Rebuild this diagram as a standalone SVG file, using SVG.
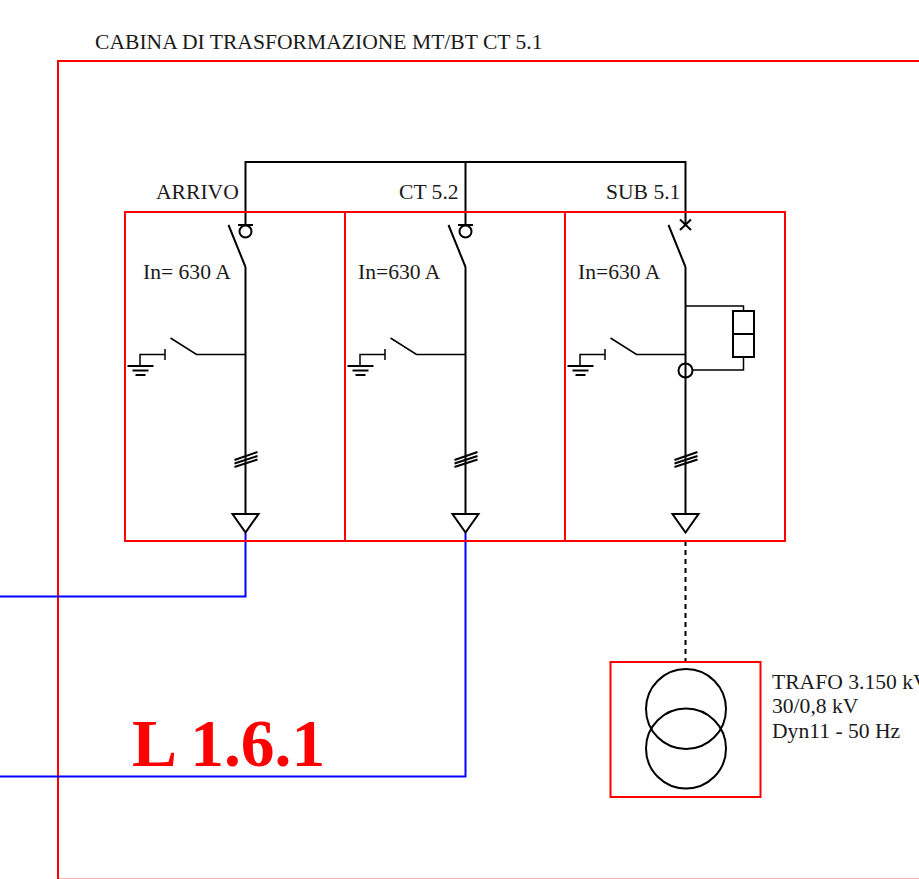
<svg xmlns="http://www.w3.org/2000/svg" xmlns:xlink="http://www.w3.org/1999/xlink" width="919" height="879" viewBox="0 0 919 879">
<style>
text{font-family:"Liberation Serif","Times New Roman",serif;font-size:21.6px;fill:#1a1a1a}
.r{fill:none;stroke:#f00;stroke-width:2}
.k{fill:none;stroke:#000;stroke-width:2}
.t{fill:none;stroke:#000;stroke-width:1.5}
.b{fill:none;stroke:#00f;stroke-width:2}
</style>
<defs>
<g id="bay">
<path class="k" d="M0 267V514M0 267L-17 225"/>
<path class="t" d="M0 354.500H-49L-75 338"/>
<path class="t" d="M-80.500 349V360M-80.500 354.500H-105.500V366"/>
<path class="k" d="M-118 366H-92"/>
<path class="k" d="M-113 370.500H-97" stroke-width="1.500"/>
<path class="k" d="M-110 375H-100" stroke-width="1.500"/>
<path class="k" d="M-11 460L12 452M-11 463.500L12 456M-11 467L12 459.500"/>
<path class="k" d="M-13 514H13L0 532.500Z"/>
</g>
</defs>
<g id="frame"><path class="r" d="M58 879V61H919"/><path d="M58 878.500H919" fill="none" stroke="#f00" stroke-width="1" stroke-opacity="0.3"/><text x="95" y="49">CABINA DI TRASFORMAZIONE MT/BT CT 5.1</text></g>
<g id="connectors">
<path class="b" d="M245.500 533V596.500H0"/>
<path class="b" d="M465.500 533V776.500H0"/>
<path class="k" d="M245.500 225V162H685.500V224M465.500 162V225"/>
<path class="k" stroke-dasharray="5 4" d="M685.500 541V661"/>
</g>
<g id="panel-arrivo">
<rect class="r" x="125" y="212" width="220" height="329"/>
<text x="156" y="199">ARRIVO</text><text x="143" y="279">In= 630 A</text>
<use xlink:href="#bay" href="#bay" x="245.500"/>
<path class="k" d="M238 225H253"/><circle class="k" cx="245.500" cy="231.500" r="6"/>
</g>
<g id="panel-ct52">
<rect class="r" x="345" y="212" width="220" height="329"/>
<text x="399" y="199">CT 5.2</text><text x="358" y="279">In=630 A</text>
<use xlink:href="#bay" href="#bay" x="465.500"/>
<path class="k" d="M458 225H473"/><circle class="k" cx="465.500" cy="231.500" r="6"/>
</g>
<g id="panel-sub51">
<rect class="r" x="565" y="212" width="220" height="329"/>
<text x="606" y="199">SUB 5.1</text><text x="578" y="279">In=630 A</text>
<use xlink:href="#bay" href="#bay" x="685.500"/>
<path class="k" d="M680 219.500L691 230M691 219.500L680 230"/>
<path class="t" d="M685.500 306H743.500V311M743.500 357V370H692"/>
<rect class="k" x="733" y="311" width="21" height="46"/><path class="k" d="M733 334H754"/>
<circle class="k" cx="685.500" cy="370.500" r="7"/>
</g>
<g id="trafo">
<rect class="r" x="610.500" y="662" width="150" height="135"/>
<circle class="k" cx="686" cy="709" r="40"/><circle class="k" cx="686" cy="748.500" r="40"/>
<text x="772" y="689">TRAFO 3.150 kV</text><text x="772" y="713">30/0,8 kV</text><text x="772" y="738">Dyn11 - 50 Hz</text>
</g>
<g id="line-label"><text x="132" y="766" style="font-size:67.500px;font-weight:bold;fill:#f00">L 1.6.1</text></g>
</svg>
